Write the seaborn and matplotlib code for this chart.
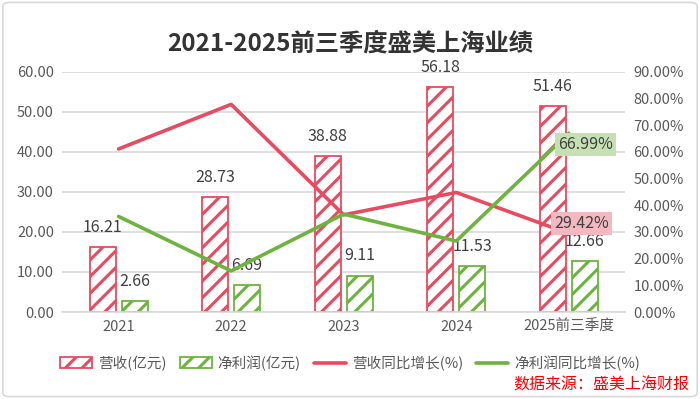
import matplotlib
matplotlib.use('Agg')
import matplotlib.pyplot as plt
import seaborn as sns
import pandas as pd
from matplotlib.patches import Patch, FancyBboxPatch
from matplotlib.lines import Line2D

# 数据
years = ['2021', '2022', '2023', '2024', '2025前三季度']
revenue = [16.21, 28.73, 38.88, 56.18, 51.46]       # 营收(亿元)
profit = [2.66, 6.69, 9.11, 11.53, 12.66]           # 净利润(亿元)
rev_growth = [61.1, 77.8, 36.4, 44.8, 29.42]        # 营收同比增长(%)
profit_growth = [35.8, 15.4, 36.7, 26.6, 66.99]     # 净利润同比增长(%)

red = '#e84a5f'
green = '#6db33f'
txt = '#404040'
tick_c = '#595959'

sns.set_theme(style='white')
plt.rcParams['font.family'] = ['Noto Sans CJK SC', 'DejaVu Sans']
plt.rcParams['hatch.linewidth'] = 2.2

df = pd.DataFrame({
    '年份': years * 2,
    '值': revenue + profit,
    '指标': ['营收(亿元)'] * 5 + ['净利润(亿元)'] * 5,
})

fig = plt.figure(figsize=(7, 3.99), dpi=100)
ax = fig.add_axes([0.089, 0.218, 0.804, 0.602])

sns.barplot(data=df, x='年份', y='值', hue='指标', palette=[red, green],
            width=0.57, gap=0.19, ax=ax, legend=False, saturation=1)

for cont, c in zip(ax.containers, [red, green]):
    for bar in cont:
        bar.set_facecolor('white')
        bar.set_edgecolor(c)
        bar.set_hatch('//')
        bar.set_linewidth(1.3)
    ax.bar_label(cont, fmt='%.2f', padding=8, fontsize=11.5, color=txt)

ax.set_ylim(0, 60)
ax.set_yticks(range(0, 61, 10))
ax.set_yticklabels([f'{v:.2f}' for v in range(0, 61, 10)])
ax.yaxis.grid(True, color='#d9d9d9', linewidth=1.2)
ax.set_axisbelow(True)
ax.set_xlabel('')
ax.set_ylabel('')
ax.tick_params(axis='both', length=0, labelsize=10.5, labelcolor=tick_c, pad=6)
for s in ['top', 'right', 'left']:
    ax.spines[s].set_visible(False)
ax.spines['bottom'].set_color('#d9d9d9')
ax.spines['bottom'].set_linewidth(1.2)

ax2 = ax.twinx()
sns.lineplot(x=list(range(5)), y=rev_growth, ax=ax2, color=red, linewidth=2.6)
sns.lineplot(x=list(range(5)), y=profit_growth, ax=ax2, color=green, linewidth=2.6)
ax2.set_ylim(0, 90)
ax2.set_yticks(range(0, 91, 10))
ax2.set_yticklabels([f'{v:.2f}%' for v in range(0, 91, 10)])
ax2.tick_params(axis='y', length=0, labelsize=10.5, labelcolor=tick_c, pad=6)
for s in ['top', 'right', 'left', 'bottom']:
    ax2.spines[s].set_visible(False)
ax.set_xlim(-0.5, 4.5)

ax2.annotate(f'{profit_growth[-1]:.2f}%', (4, profit_growth[-1]), xytext=(12, -8),
             textcoords='offset points', ha='center', va='center', fontsize=11.5, color=txt,
             bbox=dict(boxstyle='square,pad=0.2', fc='#c6e0b4', ec='none'))
ax2.annotate(f'{rev_growth[-1]:.2f}%', (4, rev_growth[-1]), xytext=(9, 7),
             textcoords='offset points', ha='center', va='center', fontsize=11.5, color=txt,
             bbox=dict(boxstyle='square,pad=0.2', fc='#f4b8c1', ec='none'))

fig.suptitle('2021-2025前三季度盛美上海业绩', y=0.92, fontsize=17.5, fontweight='bold', color='#333333')

handles = [
    Patch(facecolor='white', edgecolor=red, hatch='//', linewidth=1.3),
    Patch(facecolor='white', edgecolor=green, hatch='//', linewidth=1.3),
    Line2D([], [], color=red, linewidth=2.6),
    Line2D([], [], color=green, linewidth=2.6),
]
labels = ['营收(亿元)', '净利润(亿元)', '营收同比增长(%)', '净利润同比增长(%)']
fig.legend(handles, labels, loc='center', bbox_to_anchor=(0.5, 0.09), ncol=4, frameon=False,
           fontsize=10.5, labelcolor=tick_c, handlelength=2.2, handleheight=0.8,
           columnspacing=0.9, handletextpad=0.4)

fig.text(0.985, 0.035, '数据来源：盛美上海财报', ha='right', va='center', fontsize=11.5, color='#ff0000')

fig.patches.append(FancyBboxPatch((0.004, 0.006), 0.992, 0.988, boxstyle='round,pad=0,rounding_size=0.01',
                                  transform=fig.transFigure, fill=False, ec='#d9d9d9', lw=1.2))

fig.savefig('out.png', dpi=100)
